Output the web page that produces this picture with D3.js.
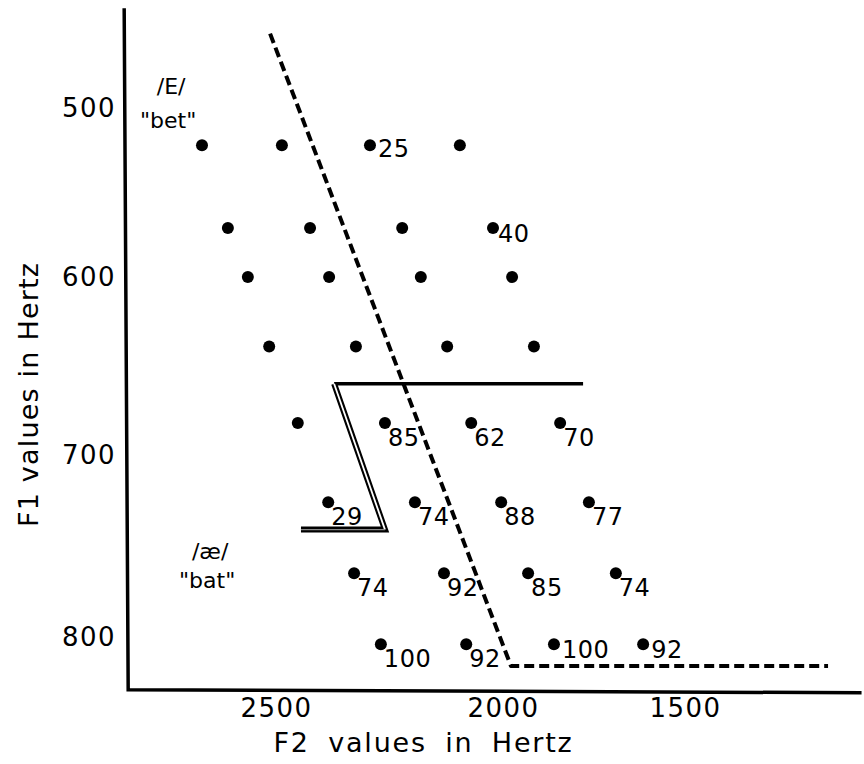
<!DOCTYPE html>
<html>
<head>
<meta charset="utf-8">
<script src="https://cdn.jsdelivr.net/npm/d3@7"></script>
<style>
  html, body { margin: 0; padding: 0; background: #fff; }
  svg { display: block; }
  text { font-family: "DejaVu Sans", sans-serif; fill: #000; }
</style>
</head>
<body>
<svg id="chart" width="864" height="764"></svg>
<script>
// ---- data ----
const f1Rows = [522, 571, 600, 639, 682, 726, 765, 804];           // F1 (Hz) of each stimulus row
const f2Row1 = [2663, 2487, 2293, 2095];
const f2Row2 = [2606, 2425, 2222, 2022];
const f2Row3 = [2562, 2383, 2181, 1975];
const f2Row4 = [2515, 2324, 2123, 1915];
const f2Row5 = [2452, 2260, 2070, 1843];
const f2Row6 = [2385, 2194, 2004, 1764];
const f2Row7 = [2328, 2130, 1931, 1690];
const f2Row8 = [2269, 2081, 1860, 1615];
const f2Rows = [f2Row1, f2Row2, f2Row3, f2Row4, f2Row5, f2Row6, f2Row7, f2Row8];
const scoreRows = [
  [null, null, 25, null],
  [null, null, null, 40],
  [null, null, null, null],
  [null, null, null, null],
  [null, 85, 62, 70],
  [29, 74, 88, 77],
  [74, 92, 85, 74],
  [100, 92, 100, 92]
];
const f2Ticks = [2500, 2000, 1500];
const f1Ticks = [500, 600, 700, 800];
const f2Extent = [2830, 1015];
const f1Extent = [441, 829];
const dashedBoundary = [[2513, 456], [1978, 816], [1107, 816]];
const solidBoundary = [[2372, 660], [1780, 660]];
const doubleBoundary = [[2372, 660], [2260, 741], [2445, 741]];
const vowelLabels = [
  { ipa: "/E/", word: "\"bet\"", f2: 2731, f1: [492, 512] },
  { ipa: "/æ/", word: "\"bat\"", f2: 2645, f1: [757, 773] }
];
const xTitle = "F2 values in Hertz";
const yTitle = "F1 values in Hertz";

// ---- scales (hand-drawn figure: piecewise linear through tick labels) ----
const x = d3.scaleLinear().domain(f2Ticks).range([276, 503, 685]);
const y = d3.scaleLinear().domain(f1Ticks).range([108, 277, 455, 637]);

const svg = d3.select("#chart");
svg.append("rect").attr("width", 864).attr("height", 764).attr("fill", "#fff");

// axis frame
const frame = d3.line()([
  [x(f2Extent[0]) - 2, y(f1Extent[0])],
  [x(f2Extent[0]) + 2, y(f1Extent[1])],
  [x(f2Extent[1]), y(f1Extent[1]) + 3]
]);
svg.append("path").attr("d", frame).attr("fill", "none")
  .attr("stroke", "#000").attr("stroke-width", 3.5).attr("stroke-linejoin", "miter");

// y axis tick labels
const yAxis = svg.append("g")
  .attr("transform", `translate(${x(f2Extent[0])},0)`)
  .call(d3.axisLeft(y).tickValues(f1Ticks).tickSize(0).tickPadding(10).tickFormat(d3.format("d")));
yAxis.select(".domain").remove();
yAxis.selectAll("text").attr("font-size", 26).attr("letter-spacing", 1.5)
  .attr("font-family", "DejaVu Sans").attr("fill", "#000");

// x axis tick labels
const xAxis = svg.append("g")
  .attr("transform", `translate(0,${y(f1Extent[1])})`)
  .call(d3.axisBottom(x).tickValues(f2Ticks).tickSize(0).tickPadding(9).tickFormat(d3.format("d")));
xAxis.select(".domain").remove();
xAxis.selectAll("text").attr("font-size", 26).attr("letter-spacing", 1.5)
  .attr("font-family", "DejaVu Sans").attr("fill", "#000");

// axis titles
svg.append("text").text(xTitle)
  .attr("x", x(2175)).attr("y", 752)
  .attr("text-anchor", "middle").attr("font-size", 27)
  .attr("letter-spacing", 1.8).attr("word-spacing", 8);
svg.append("text").text(yTitle)
  .attr("transform", `translate(38,${y(666)}) rotate(-90)`)
  .attr("text-anchor", "middle").attr("font-size", 27)
  .attr("letter-spacing", 1.2);

// boundaries
const line = d3.line().x(d => x(d[0])).y(d => y(d[1]));
svg.append("path").attr("d", line(dashedBoundary)).attr("fill", "none")
  .attr("stroke", "#000").attr("stroke-width", 4)
  .attr("stroke-dasharray", "10 5").attr("stroke-linejoin", "round");
svg.append("path").attr("d", line(solidBoundary)).attr("fill", "none")
  .attr("stroke", "#000").attr("stroke-width", 3.5);
svg.append("path").attr("d", line(doubleBoundary)).attr("fill", "none")
  .attr("stroke", "#000").attr("stroke-width", 6).attr("stroke-linejoin", "miter");
svg.append("path").attr("d", line(doubleBoundary.slice(0, 2))).attr("fill", "none")
  .attr("stroke", "#fff").attr("stroke-width", 1.8);
svg.append("path").attr("d", line(doubleBoundary.slice(1))).attr("fill", "none")
  .attr("stroke", "#888").attr("stroke-width", 1.2);

// stimulus points
const points = [];
f1Rows.forEach((f1, r) => {
  f2Rows[r].forEach((f2, c) => {
    points.push({ f1, f2, score: scoreRows[r][c], r, c });
  });
});
svg.append("g").selectAll("circle").data(points).join("circle")
  .attr("cx", d => x(d.f2)).attr("cy", d => y(d.f1))
  .attr("r", 6).attr("fill", "#000");

// percentage labels
function placement(d) {
  if (d.r === 0) return [8, 12];
  if (d.r === 1) return [5, 14];
  if (d.r === 7 && d.c >= 2) return [8, 14];
  return [3, 23];
}
svg.append("g").selectAll("text").data(points.filter(d => d.score !== null)).join("text")
  .attr("x", d => x(d.f2) + placement(d)[0])
  .attr("y", d => y(d.f1) + placement(d)[1])
  .attr("font-size", 24).attr("letter-spacing", 0.5)
  .text(d => d.score);

// vowel labels
vowelLabels.forEach(v => {
  svg.append("text").text(v.ipa).attr("x", x(v.f2)).attr("y", y(v.f1[0]))
    .attr("text-anchor", "middle").attr("font-size", 22);
  svg.append("text").text(v.word).attr("x", x(v.f2) - 3).attr("y", y(v.f1[1]))
    .attr("text-anchor", "middle").attr("font-size", 22);
});
</script>
</body>
</html>
